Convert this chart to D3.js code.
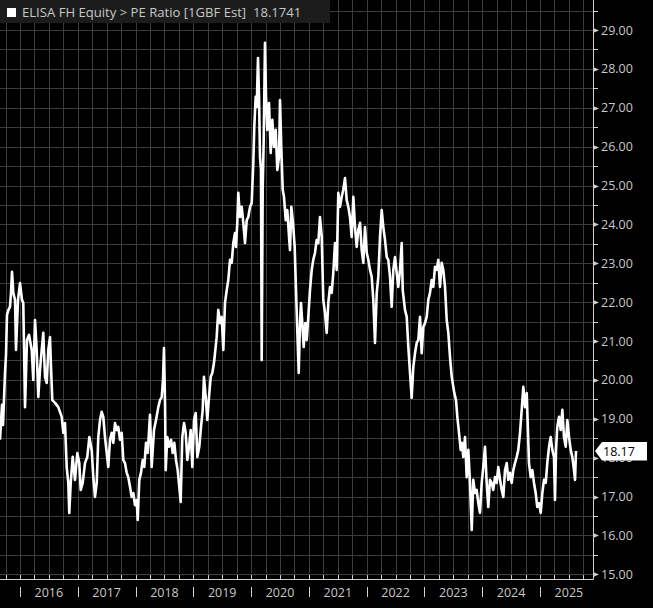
<!DOCTYPE html>
<html><head><meta charset="utf-8">
<script src="https://cdn.jsdelivr.net/npm/d3@7"></script>
<style>
html,body{margin:0;padding:0;background:#000;}
svg{display:block;}
</style></head>
<body>
<svg id="c" width="653" height="608"></svg>
<script>
// ---- data (decimal year, PE ratio) ----
const title = "ELISA FH Equity > PE Ratio [1GBF Est]";
const lastValueText = "18.1741";
const lastLabel = "18.17";
const dates = [
2015.654,2015.689,2015.706,2015.741,2015.758,2015.775,2015.801,2015.827,2015.844,2015.862,
2015.884,2015.914,2015.931,2015.966,2016.000,2016.035,2016.057,2016.087,2016.121,2016.156,
2016.203,2016.230,2016.260,2016.289,2016.317,2016.346,2016.376,2016.403,2016.433,2016.462,
2016.490,2016.519,2016.537,2016.559,2016.606,2016.663,2016.722,2016.750,2016.779,2016.808,
2016.836,2016.853,2016.878,2016.912,2016.952,2016.992,2017.026,2017.051,2017.085,2017.125,
2017.165,2017.200,2017.241,2017.269,2017.298,2017.328,2017.355,2017.385,2017.414,2017.442,
2017.471,2017.501,2017.528,2017.558,2017.587,2017.615,2017.644,2017.674,2017.701,2017.731,
2017.760,2017.788,2017.817,2017.847,2017.874,2017.904,2017.933,2017.961,2017.990,2018.020,
2018.037,2018.065,2018.094,2018.124,2018.151,2018.181,2018.210,2018.250,2018.279,2018.319,
2018.354,2018.394,2018.423,2018.453,2018.475,2018.492,2018.510,2018.522,2018.549,2018.579,
2018.614,2018.643,2018.671,2018.700,2018.729,2018.757,2018.781,2018.809,2018.839,2018.868,
2018.896,2018.925,2018.954,2018.982,2019.012,2019.041,2019.069,2019.103,2019.133,2019.162,
2019.184,2019.214,2019.242,2019.271,2019.301,2019.328,2019.358,2019.404,2019.432,2019.462,
2019.491,2019.519,2019.548,2019.578,2019.605,2019.635,2019.664,2019.692,2019.721,2019.738,
2019.761,2019.778,2019.808,2019.837,2019.865,2019.894,2019.924,2019.951,2019.981,2020.010,
2020.038,2020.055,2020.079,2020.097,2020.119,2020.137,2020.154,2020.171,2020.183,2020.201,
2020.218,2020.240,2020.258,2020.280,2020.310,2020.339,2020.367,2020.396,2020.426,2020.453,
2020.483,2020.500,2020.522,2020.547,2020.569,2020.599,2020.626,2020.656,2020.673,2020.696,
2020.725,2020.754,2020.777,2020.799,2020.824,2020.846,2020.863,2020.886,2020.910,2020.938,
2020.962,2020.990,2021.019,2021.049,2021.076,2021.106,2021.135,2021.163,2021.192,2021.222,
2021.249,2021.279,2021.308,2021.336,2021.365,2021.395,2021.422,2021.452,2021.481,2021.509,
2021.538,2021.568,2021.595,2021.625,2021.654,2021.682,2021.711,2021.741,2021.769,2021.798,
2021.827,2021.855,2021.885,2021.914,2021.942,2021.971,2022.001,2022.028,2022.058,2022.087,
2022.115,2022.144,2022.174,2022.201,2022.231,2022.260,2022.288,2022.317,2022.347,2022.374,
2022.404,2022.433,2022.461,2022.490,2022.520,2022.547,2022.577,2022.606,2022.624,2022.663,
2022.693,2022.721,2022.750,2022.779,2022.807,2022.837,2022.866,2022.894,2022.923,2022.952,
2022.980,2023.009,2023.039,2023.067,2023.096,2023.125,2023.153,2023.182,2023.212,2023.240,
2023.269,2023.298,2023.326,2023.356,2023.385,2023.413,2023.442,2023.472,2023.517,2023.546,
2023.569,2023.598,2023.627,2023.650,2023.672,2023.702,2023.731,2023.759,2023.788,2023.818,
2023.845,2023.875,2023.904,2023.932,2023.961,2023.991,2024.018,2024.048,2024.077,2024.105,
2024.134,2024.164,2024.191,2024.221,2024.250,2024.278,2024.308,2024.337,2024.365,2024.394,
2024.424,2024.451,2024.481,2024.510,2024.538,2024.567,2024.597,2024.624,2024.654,2024.683,
2024.711,2024.740,2024.770,2024.787,2024.809,2024.839,2024.867,2024.896,2024.925,2024.953,
2024.983,2025.012,2025.040,2025.069,2025.099,2025.126,2025.156,2025.185,2025.213,2025.242,
2025.259,2025.277,2025.299,2025.329,2025.358,2025.386,2025.415,2025.445,2025.472,2025.502,
2025.531,2025.559,2025.588,2025.606,2025.623
];
const peValues = [
18.46,19.36,18.84,20.20,20.64,21.67,21.80,21.88,22.24,22.78,
22.24,22.06,20.77,22.06,22.49,22.06,21.98,19.30,21.03,21.16,
20.77,20.00,21.54,20.77,19.56,20.26,20.77,21.21,20.08,19.92,
20.77,21.10,20.33,19.48,19.41,19.30,19.05,18.64,18.89,17.76,
17.35,16.58,17.35,18.02,17.43,18.12,17.86,17.17,17.35,17.86,
18.02,18.53,18.20,17.50,16.99,17.35,18.53,18.97,19.18,19.05,
18.53,18.12,17.76,18.46,18.64,18.38,18.89,18.71,18.79,18.46,
18.64,17.94,17.86,17.61,17.50,17.25,16.99,17.09,16.78,16.91,
16.40,17.43,17.61,17.94,17.76,18.38,18.12,19.10,17.76,18.71,
18.97,19.30,19.48,19.56,20.00,20.82,19.41,17.68,18.53,18.28,
18.46,18.12,18.38,17.94,17.68,17.25,16.86,18.53,18.89,18.64,
17.94,18.28,18.71,17.76,18.97,19.15,18.02,18.28,18.79,19.23,
20.08,19.56,18.97,19.56,20.08,20.18,20.44,21.10,21.80,21.46,
21.62,20.77,21.98,22.31,22.57,23.09,23.01,23.52,23.78,23.42,
24.04,24.81,24.19,24.45,24.04,23.52,24.11,24.19,24.45,24.55,
25.58,26.51,27.28,27.02,28.28,27.28,25.73,25.40,20.51,24.96,
26.17,28.67,27.28,26.43,27.12,25.84,26.69,25.99,26.43,25.40,
25.73,27.20,25.99,24.89,24.71,24.11,24.37,23.68,23.34,24.45,
24.04,23.42,22.31,21.28,20.18,21.46,21.98,21.46,20.85,21.46,
21.03,21.62,22.31,22.83,23.09,23.27,23.60,23.52,24.19,23.68,
22.06,21.72,21.21,21.98,22.39,22.24,22.75,23.52,22.83,24.81,
24.45,24.71,24.89,25.19,24.63,24.45,24.19,23.68,24.71,23.93,
23.42,23.86,24.04,23.34,23.01,23.93,23.27,23.09,22.83,22.65,
22.06,20.95,22.24,22.65,23.68,24.37,23.93,23.60,23.16,23.09,
22.65,21.88,22.83,23.16,22.75,22.39,22.83,23.52,22.31,21.80,
21.62,20.85,20.18,19.54,20.33,20.69,20.95,21.03,21.62,20.69,
21.36,21.46,21.62,22.06,22.24,22.57,22.39,22.91,22.83,23.09,
22.39,23.01,22.83,22.39,21.54,21.21,20.59,20.08,19.66,19.48,
19.05,18.64,18.20,18.38,18.02,18.53,17.50,18.20,17.35,16.14,
17.43,17.09,17.17,16.83,16.58,17.35,17.76,18.28,17.35,16.73,
17.43,17.35,17.17,17.50,17.35,17.76,17.43,17.17,16.99,17.68,
17.86,17.43,17.61,17.35,17.68,17.86,18.02,18.20,18.64,19.23,
19.82,19.30,19.66,18.89,17.86,17.50,17.68,17.35,17.09,16.73,
16.83,16.58,17.09,17.43,17.35,17.86,18.28,18.53,18.20,18.02,
16.91,18.20,18.79,19.05,18.71,19.23,18.53,18.28,18.97,18.53,
18.20,18.02,17.68,17.43,18.17
];
const yTickValues = [15,16,17,18,19,20,21,22,23,24,25,26,27,28,29];
const yearLabels = ["2016","2017","2018","2019","2020","2021","2022","2023","2024","2025"];
const xDomain = [2015.654, 2025.917];
const yDomain = [15, 29];

// ---- layout ----
const W = 653, H = 608;
const plotRight = 593, plotBottom = 579;
const svg = d3.select("#c");
svg.append("rect").attr("width", W).attr("height", H).attr("fill", "#000");

const x = d3.scaleLinear().domain(xDomain).range([0, plotRight]);
const y = d3.scaleLinear().domain(yDomain).range([574.3, 30]);

const data = dates.map((t, i) => ({t, v: peValues[i]}));

// grid
const g = svg.append("g");
const hGrid = d3.range(15, 30, 0.5);
g.selectAll("line.h").data(hGrid).join("line")
  .attr("x1", 0).attr("x2", plotRight)
  .attr("y1", d => Math.round(y(d)) + 0.5).attr("y2", d => Math.round(y(d)) + 0.5)
  .attr("stroke", "#3d3d3d").attr("stroke-width", 1);
const quarters = d3.range(2015.75, 2026, 0.25);
g.selectAll("line.v").data(quarters).join("line")
  .attr("x1", d => Math.round(x(d)) + 0.5).attr("x2", d => Math.round(x(d)) + 0.5)
  .attr("y1", 0).attr("y2", plotBottom)
  .attr("stroke", "#3d3d3d").attr("stroke-width", 1);

// line
const line = d3.line().x(d => x(d.t)).y(d => y(d.v));
svg.append("path").datum(data)
  .attr("d", line)
  .attr("fill", "none").attr("stroke", "#fff")
  .attr("stroke-width", 2.6).attr("stroke-linejoin", "round");

// axes
const axisColor = "#cfcfcf";
const textColor = "#c8c8c8";
const fontFam = "'Open Sans', 'Noto Sans', sans-serif";

svg.append("line").attr("x1", 0).attr("x2", plotRight + 0.5)
  .attr("y1", plotBottom + 0.5).attr("y2", plotBottom + 0.5)
  .attr("stroke", axisColor).attr("stroke-width", 1);
svg.append("line").attr("x1", plotRight + 0.5).attr("x2", plotRight + 0.5)
  .attr("y1", 0).attr("y2", plotBottom + 0.5)
  .attr("stroke", axisColor).attr("stroke-width", 1);

// x quarter ticks above axis
svg.append("g").selectAll("line").data(quarters).join("line")
  .attr("x1", d => Math.round(x(d)) + 0.5).attr("x2", d => Math.round(x(d)) + 0.5)
  .attr("y1", plotBottom - 4).attr("y2", plotBottom)
  .attr("stroke", axisColor).attr("stroke-width", 1);

// year separators and labels
const years = yearLabels.map(Number);
svg.append("g").selectAll("line").data(years).join("line")
  .attr("x1", d => Math.round(x(d)) + 0.5).attr("x2", d => Math.round(x(d)) + 0.5)
  .attr("y1", 587).attr("y2", 597)
  .attr("stroke", axisColor).attr("stroke-width", 1);
svg.append("g").selectAll("text").data(yearLabels).join("text")
  .attr("x", d => x(+d + 0.5)).attr("y", 597)
  .attr("text-anchor", "middle")
  .attr("fill", textColor).attr("font-family", fontFam).attr("font-size", 12.5)
  .text(d => d);

// y ticks
svg.append("g").selectAll("line").data(d3.range(15.5, 30, 1)).join("line")
  .attr("x1", plotRight).attr("x2", plotRight + 5)
  .attr("y1", d => Math.round(y(d)) + 0.5).attr("y2", d => Math.round(y(d)) + 0.5)
  .attr("stroke", axisColor).attr("stroke-width", 1);
svg.append("g").selectAll("path").data(yTickValues).join("path")
  .attr("d", d => { const yy = Math.round(y(d)) + 0.5; return `M${plotRight},${yy-2.5}L${plotRight+6},${yy}L${plotRight},${yy+2.5}Z`; })
  .attr("fill", axisColor);
const lastV = peValues[peValues.length - 1];
svg.append("g").selectAll("text").data(yTickValues).join("text")
  .attr("x", 601).attr("y", d => y(d) + 4.5)
  .attr("fill", textColor).attr("font-family", fontFam).attr("font-size", 12.5)
  .text(d => d3.format(".2f")(d));

// legend box
svg.append("rect").attr("x", 0).attr("y", 0).attr("width", 330).attr("height", 23)
  .attr("fill", "#1c1c1c");
svg.append("rect").attr("x", 7).attr("y", 8).attr("width", 9).attr("height", 9).attr("fill", "#fff");
svg.append("text").attr("x", 22).attr("y", 17)
  .attr("fill", textColor).attr("font-family", fontFam).attr("font-size", 13.1)
  .attr("xml:space", "preserve")
  .text(title + "  " + lastValueText);

// last value label
const ly = y(lastV);
svg.append("path")
  .attr("d", `M595,${ly}L602,${ly-9}L647,${ly-9}L647,${ly+9.5}L602,${ly+9.5}Z`)
  .attr("fill", "#fff");
svg.append("text").attr("x", 603).attr("y", ly + 4.5)
  .attr("fill", "#000").attr("font-family", fontFam).attr("font-size", 12.5)
  .text(lastLabel);
</script>
</body></html>
